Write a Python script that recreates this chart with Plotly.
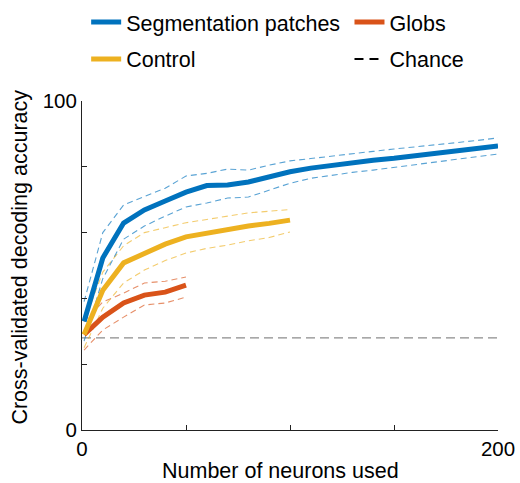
import plotly.graph_objects as go

# ---- data ----
seg_x = [1, 10, 20, 30, 40, 50, 60, 70, 80, 90, 100, 110, 120, 130, 140, 150, 160, 170, 180, 190, 200]
seg_mean = [33, 52.3, 62.9, 66.9, 69.6, 72.3, 74.3, 74.5, 75.4, 77.0, 78.5, 79.6, 80.5, 81.3, 82.0, 82.6, 83.3, 84.0, 84.8, 85.6, 86.3]
seg_upper = [39, 60, 68.4, 71, 73.5, 77.2, 78, 79.3, 79, 80.5, 81.8, 82.5, 83.3, 84, 84.7, 85.4, 86, 86.6, 87.3, 88, 88.8]
seg_lower = [27, 46, 58, 62, 65, 67.8, 69, 70.5, 70.8, 73, 75, 76.5, 77.5, 78.3, 79, 79.8, 80.6, 81.5, 82.3, 83.1, 83.9]

ctl_x = [1, 10, 20, 30, 40, 50, 60, 70, 80, 90, 100]
ctl_mean = [29, 42.5, 50.8, 53.8, 56.5, 58.7, 59.9, 61, 62, 62.8, 63.8]
ctl_upper = [33, 48, 56, 60, 61.5, 63, 64, 65, 66, 66.5, 67]
ctl_lower = [25, 37, 44.7, 48.6, 51.5, 53.8, 55.2, 56.2, 57.5, 58.5, 60.2]

glob_x = [1, 10, 20, 30, 40, 50]
glob_mean = [29, 34.3, 38.6, 41, 41.9, 44]
glob_upper = [33, 38.9, 41.6, 44.7, 45.2, 46.5]
glob_lower = [24.3, 30.4, 34.3, 38, 38.6, 40.4]

chance_x = [0, 200]
chance_y = [28, 28]

x_ticks = [0, 50, 100, 150, 200]
x_ticktext = ["0", "", "", "", "200"]
y_ticks = [0, 20, 40, 60, 80, 100]
y_ticktext = ["0", "", "", "", "", "100"]

x_title = "Number of neurons used"
y_title = "Cross-validated decoding accuracy"

BLUE = "#0072BD"
ORANGE = "#D95319"
YELLOW = "#EDB120"
BLUE_CI = "rgba(0,114,189,0.65)"
ORANGE_CI = "rgba(217,83,25,0.65)"
YELLOW_CI = "rgba(237,177,32,0.65)"

fig = go.Figure()

def ci(x, y, color):
    fig.add_trace(go.Scatter(x=x, y=y, mode="lines", showlegend=False, hoverinfo="skip",
                             line=dict(color=color, width=1.1, dash="6px,4px")))

# chance line
fig.add_trace(go.Scatter(x=chance_x, y=chance_y, mode="lines", showlegend=False,
                         line=dict(color="#8c8c8c", width=1.3, dash="9px,5px")))

for (x, u, l, c) in [(glob_x, glob_upper, glob_lower, ORANGE_CI),
                     (ctl_x, ctl_upper, ctl_lower, YELLOW_CI),
                     (seg_x, seg_upper, seg_lower, BLUE_CI)]:
    ci(x, u, c)
    ci(x, l, c)

fig.add_trace(go.Scatter(x=glob_x, y=glob_mean, mode="lines", name="Globs",
                         line=dict(color=ORANGE, width=5), legend="legend2", legendgroup="g",
                         legendrank=1))
fig.add_trace(go.Scatter(x=ctl_x, y=ctl_mean, mode="lines", name="Control",
                         line=dict(color=YELLOW, width=5), legend="legend", legendgroup="c",
                         legendrank=2))
fig.add_trace(go.Scatter(x=seg_x, y=seg_mean, mode="lines", name="Segmentation patches",
                         line=dict(color=BLUE, width=5), legend="legend", legendgroup="s",
                         legendrank=1))
# legend entry for chance (black dashed sample)
fig.add_trace(go.Scatter(x=[None], y=[None], mode="lines", name="Chance",
                         line=dict(color="black", width=2, dash="9px,6px"),
                         legend="legend2", legendgroup="ch", legendrank=2))

FONT = "Liberation Sans, Arial, sans-serif"
BIG = 21.5

leg_common = dict(font=dict(size=BIG, color="black", family=FONT), bgcolor="rgba(0,0,0,0)",
                  tracegroupgap=6, yanchor="top", xanchor="left", orientation="v")

fig.update_layout(
    width=520, height=483,
    margin=dict(l=82, r=22, t=101, b=53, autoexpand=False),
    paper_bgcolor="white", plot_bgcolor="white",
    font=dict(family=FONT, size=19, color="black"),
    legend=dict(x=0.01, y=1.302, **leg_common),
    legend2=dict(x=0.643, y=1.302, **leg_common),
    xaxis=dict(range=[0, 200], tickvals=x_ticks, ticktext=x_ticktext, ticks="inside",
               ticklen=5, tickcolor="#222", showline=True, linecolor="#222", linewidth=1,
               showgrid=False, zeroline=False, tickfont=dict(size=20.5), automargin=False),
    yaxis=dict(range=[0, 100], tickvals=y_ticks, ticktext=y_ticktext, ticks="inside",
               ticklen=5, tickcolor="#222", showline=True, linecolor="#222", linewidth=1,
               showgrid=False, zeroline=False, tickfont=dict(size=20.5), automargin=False),
    annotations=[
        dict(text=x_title, xref="paper", yref="paper", x=0.476, y=-0.125,
             xanchor="center", yanchor="middle", showarrow=False, font=dict(size=BIG)),
        dict(text=y_title, xref="paper", yref="paper", x=-0.149, y=0.524, textangle=-90,
             xanchor="center", yanchor="middle", showarrow=False, font=dict(size=BIG)),
    ],
)

fig.write_html("out.html")
